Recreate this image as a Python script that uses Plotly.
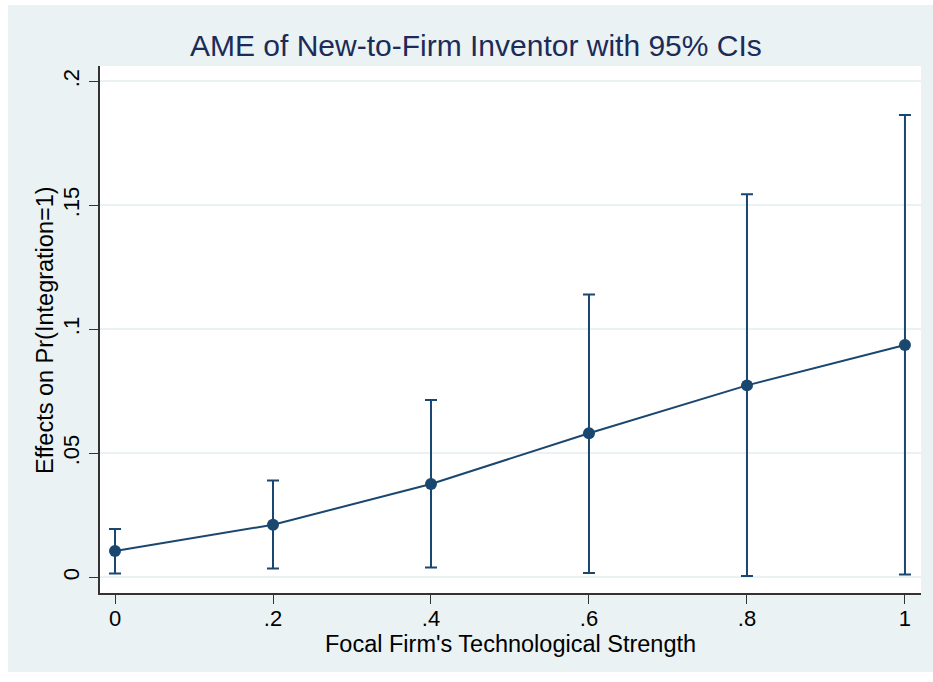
import plotly.graph_objects as go

# Data
strength = [0, 0.2, 0.4, 0.6, 0.8, 1.0]
ame = [0.0106, 0.0212, 0.0376, 0.0581, 0.0774, 0.0937]
ci_upper = [0.0195, 0.0390, 0.0715, 0.1141, 0.1545, 0.1864]
ci_lower = [0.0015, 0.0036, 0.0040, 0.0017, 0.0005, 0.0011]

x_ticks = [0, 0.2, 0.4, 0.6, 0.8, 1.0]
x_ticklabels = ["0", ".2", ".4", ".6", ".8", "1"]
y_ticks = [0, 0.05, 0.1, 0.15, 0.2]
y_ticklabels = ["0", ".05", ".1", ".15", ".2"]

title_text = "AME of New-to-Firm Inventor with 95% CIs"
x_title = "Focal Firm's Technological Strength"
y_title = "Effects on Pr(Integration=1)"

NAVY = "#1a476f"
BG = "#eaf2f3"
FONT = "Liberation Sans, Arial, Helvetica, sans-serif"

W, H = 933, 682
L, R, T, B = 100, 12, 66, 89
pw, ph = W - L - R, H - T - B

def px(xp):
    return (xp - L) / pw

def py(yp):
    return (H - B - yp) / ph

err_plus = [u - m for u, m in zip(ci_upper, ame)]
err_minus = [m - l for m, l in zip(ame, ci_lower)]

fig = go.Figure()
fig.add_trace(go.Scatter(
    x=strength, y=ame, mode="lines+markers",
    line=dict(color=NAVY, width=2),
    marker=dict(color=NAVY, size=12),
    error_y=dict(type="data", symmetric=False, array=err_plus, arrayminus=err_minus,
                 color=NAVY, thickness=2, width=6),
    showlegend=False,
))

fig.update_layout(
    width=W, height=H,
    margin=dict(l=L, r=R, t=T, b=B, pad=0),
    paper_bgcolor="white",
    plot_bgcolor="white",
    font=dict(family=FONT, color="black"),
    xaxis=dict(
        range=[-0.019, 1.0203], tickvals=x_ticks, ticktext=x_ticklabels,
        ticks="outside", ticklen=9, tickwidth=1.2, tickcolor="#333333",
        showline=True, linecolor="#333333", linewidth=1.5,
        showgrid=False, zeroline=False, ticklabelstandoff=-4,
        tickfont=dict(size=22, family=FONT, color="black"),
    ),
    yaxis=dict(
        range=[-0.00633, 0.2062], tickvals=y_ticks, ticktext=y_ticklabels,
        ticks="outside", ticklen=9, tickwidth=1.2, tickcolor="#333333",
        showline=True, linecolor="#333333", linewidth=1.5,
        showgrid=True, gridcolor=BG, gridwidth=1.5, zeroline=False,
        tickangle=-90, ticklabelstandoff=1,
        tickfont=dict(size=22, family=FONT, color="black"),
    ),
    shapes=[
        dict(type="rect", xref="paper", yref="paper", layer="below",
             x0=px(8), x1=px(933), y0=py(672), y1=py(5),
             fillcolor=BG, line=dict(width=0)),
        dict(type="rect", xref="paper", yref="paper", layer="below",
             x0=0, x1=1, y0=0, y1=1,
             fillcolor="white", line=dict(width=0)),
    ],
    annotations=[
        dict(text=title_text, xref="paper", yref="paper", x=px(476), y=py(45),
             xanchor="center", yanchor="middle", showarrow=False,
             font=dict(size=30, family=FONT, color="#1c2b58")),
        dict(text=x_title, xref="paper", yref="paper", x=px(510), y=py(644),
             xanchor="center", yanchor="middle", showarrow=False,
             font=dict(size=23.5, family=FONT, color="black")),
        dict(text=y_title, xref="paper", yref="paper", x=px(45), y=py(330),
             xanchor="center", yanchor="middle", showarrow=False, textangle=-90,
             font=dict(size=23.5, family=FONT, color="black")),
    ],
)

fig.write_html("out.html", config={"displayModeBar": False},
               post_script="document.body.style.margin='0';")
